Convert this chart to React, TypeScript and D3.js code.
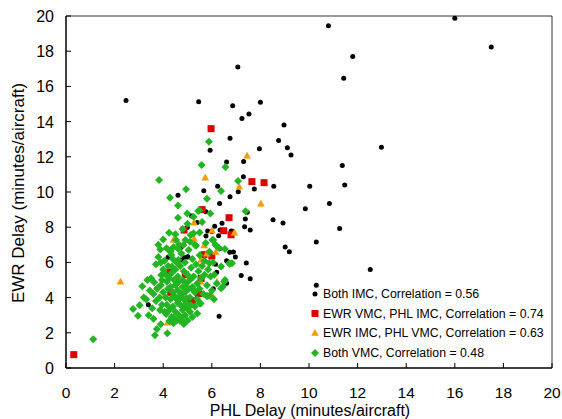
import React from "react";
import * as d3 from "d3";

// ---- Data (PHL delay, EWR delay) ----
const bothIMC: [number, number][] = [
  [10.8,19.45],[16.0,19.87],[17.5,18.24],[11.8,17.7],[7.07,17.1],[11.43,16.46],[5.46,15.13],[2.47,15.2],
  [6.86,14.9],[8.0,15.1],[7.24,14.18],[7.53,14.43],[8.97,13.8],[6.75,13.05],[5.93,12.37],[8.75,12.92],
  [9.11,12.52],[9.26,12.1],[12.98,12.54],[7.96,12.46],[6.61,11.7],[7.31,11.74],[7.3,10.87],[11.37,11.5],
  [11.47,10.4],[10.03,10.32],[8.55,10.32],[7.75,10.17],[7.09,10.02],[6.24,10.32],[5.67,10.07],[4.61,9.81],
  [6.75,9.73],[6.32,9.34],[10.84,9.34],[9.85,9.05],[5.76,8.88],[7.46,8.85],[5.17,8.64],[7.38,8.47],
  [8.52,8.43],[8.93,8.24],[5.4,8.27],[6.42,8.22],[11.26,7.92],[7.35,8.03],[6.12,8.05],[4.99,7.99],
  [7.58,7.84],[6.84,7.77],[5.83,7.78],[6.0,7.75],[6.34,7.84],[6.8,7.78],[6.28,7.52],[5.76,7.5],
  [10.3,7.16],[9.02,6.88],[9.19,6.61],[6.74,6.57],[6.89,6.59],[6.32,6.78],[4.72,6.84],[6.97,6.31],
  [4.87,6.27],[4.99,6.31],[5.02,6.32],[4.2,6.29],[4.73,6.14],[6.61,6.1],[7.42,5.97],[6.15,5.89],
  [6.39,5.76],[12.52,5.59],[6.2,5.44],[7.21,5.26],[7.58,5.07],[6.61,4.81],[10.3,4.7],[6.06,4.5],
  [3.39,3.6],[6.3,2.94]
];

const ewrVmcPhlImc: [number, number][] = [
  [0.32,0.76],[5.97,13.6],[7.65,10.59],[8.15,10.53],[5.6,9.0],[6.71,8.54],[4.86,7.84],[6.49,7.8],
  [6.79,7.57],[5.68,6.44],[6.0,6.36],[4.27,5.44],[4.91,5.3],[5.56,5.09],[4.31,4.3],[5.45,4.22],
  [4.97,3.86],[5.2,3.82]
];

const ewrImcPhlVmc: [number, number][] = [
  [2.24,4.9],[7.45,12.06],[5.73,10.81],[7.13,10.3],[8.02,9.34],[5.27,8.26],[6.0,7.8],[6.93,7.69],
  [5.27,7.35],[4.42,7.27],[5.69,6.97],[6.16,6.59],[5.56,6.14],[6.21,4.9],[5.53,4.9],[5.98,4.2],
  [4.18,2.57],[5.8,6.5]
];

const bothVMC: [number, number][] = [
  [3.83,10.68],[4.94,10.15],[4.28,9.68],[4.61,9.24],[5.44,8.92],[4.99,8.78],[4.61,8.54],[5.8,9.62],
  [6.38,10.06],[5.94,8.78],[7.08,10.63],[7.39,8.9],[4.24,7.69],[5.25,7.65],[5.13,7.56],[4.91,7.27],
  [5.1,7.18],[4.53,7.27],[4.83,6.99],[3.88,6.74],[4.14,6.8],[4.42,6.86],[4.62,6.78],[4.33,6.42],
  [4.62,6.14],[4.35,5.76],[3.92,5.28],[6.3,6.82],[6.54,6.76],[6.73,5.92],[6.54,5.0],[6.45,4.62],
  [5.9,4.11],[5.83,4.09],[5.51,3.67],[3.14,4.64],[3.03,3.56],[2.76,3.35],[2.96,2.97],[1.12,1.63],
  [3.63,4.87],[3.77,4.55],[3.87,3.3],[4.12,3.07],[3.9,2.48],[3.74,2.22],[3.66,1.86],[4.17,1.97],
  [4.42,2.86],[4.25,2.67],[4.69,2.69],[4.42,2.54],[4.83,3.48],[5.14,3.58],[4.69,3.96],
  [5.88,12.86],[5.58,11.53],[6.56,11.42],[5.49,8.96],[5.25,8.6],[6.83,5.95],[6.38,5.76],[6.02,7.27],
  [5.35,6.95],[6.06,7.27],[6.2,6.93],[5.9,5.95],[6.72,5.95],[6.51,4.9],[6.38,4.53],[6.09,3.9],
  [5.54,3.67],[5.79,4.09],[4.72,2.76],[4.97,3.96],[5.24,4.43],
  [3.7,5.9],[3.8,6.3],[3.9,6.0],[4.0,5.6],[4.05,6.1],[4.1,5.3],[4.15,4.9],[4.2,5.8],[4.25,5.1],
  [4.3,4.6],[4.3,6.6],[4.35,5.4],[4.4,4.3],[4.4,6.2],[4.45,5.0],[4.5,4.7],[4.5,5.6],[4.55,3.9],
  [4.55,6.0],[4.6,4.4],[4.6,5.2],[4.65,4.9],[4.7,5.8],[4.7,3.6],[4.75,4.2],[4.75,6.5],[4.8,5.0],
  [4.8,4.6],[4.85,5.5],[4.85,3.9],[4.9,4.3],[4.9,6.0],[4.95,4.8],[5.0,5.3],[5.0,3.4],[5.05,4.5],
  [5.05,6.7],[5.1,5.0],[5.1,4.0],[5.15,5.7],[5.2,4.6],[5.2,6.2],[5.25,5.2],[5.3,4.3],[5.3,7.0],
  [5.35,5.9],[5.4,4.8],[5.4,3.9],[5.45,5.5],[5.5,6.4],[5.5,4.5],[5.55,5.1],[5.6,5.8],[5.65,4.2],
  [5.7,6.1],[5.7,5.3],[5.75,7.1],[5.8,4.7],[5.85,5.6],[5.9,6.6],[5.95,5.2],[6.0,4.4],[6.05,6.0],
  [6.1,5.3],[6.15,7.0],[6.2,4.8],[3.6,4.2],[3.7,3.8],[3.75,4.5],[3.85,4.0],[3.9,4.7],[3.95,3.6],
  [4.0,4.3],[4.05,3.2],[4.1,4.0],[4.15,3.6],[4.2,4.5],[4.25,3.3],[4.3,3.9],[4.35,2.9],[4.4,3.5],
  [4.45,4.1],[4.5,3.2],[4.55,2.7],[4.6,3.7],[4.65,3.0],[4.7,4.1],[4.75,2.8],[4.8,3.3],[4.85,2.5],
  [4.9,3.0],[4.95,3.7],[5.0,2.7],[5.1,3.2],[5.2,2.9],[5.3,3.5],[5.4,3.1],[3.5,5.1],[3.45,4.4],
  [3.55,3.4],[3.3,3.9],[3.4,3.0],[3.2,4.0],[3.6,2.8],[3.35,5.0],[3.8,7.0],[4.0,7.3],[4.5,7.6],
  [4.8,7.9],[5.0,8.2],[5.5,7.7],[5.6,8.3],[4.65,7.0],[3.95,5.0]
];

const legendLabels = [
  "Both IMC, Correlation = 0.56",
  "EWR VMC, PHL IMC, Correlation = 0.74",
  "EWR IMC, PHL VMC, Correlation = 0.63",
  "Both VMC, Correlation = 0.48",
];
const xTicks = [0, 2, 4, 6, 8, 10, 12, 14, 16, 18, 20];
const yTicks = [0, 2, 4, 6, 8, 10, 12, 14, 16, 18, 20];
const xTitle = "PHL Delay (minutes/aircraft)";
const yTitle = "EWR Delay (minutes/aircraft)";

const W = 562, H = 419;
const FONT = "'Liberation Sans', Arial, sans-serif";
const COLORS = ["#000000", "#dd0000", "#ff9900", "#22b522"];

const x = d3.scaleLinear().domain([0, 20]).range([66, 552]);
const y = d3.scaleLinear().domain([0, 20]).range([368, 16]);

function Marker({ kind, cx, cy }: { kind: number; cx: number; cy: number }) {
  const c = COLORS[kind];
  if (kind === 0) return <circle cx={cx} cy={cy} r={2.5} fill={c} />;
  if (kind === 1) return <rect x={cx - 3.5} y={cy - 3.5} width={7} height={7} fill={c} />;
  if (kind === 2)
    return <path d={`M${cx},${cy - 4}L${cx + 3.8},${cy + 2.8}L${cx - 3.8},${cy + 2.8}Z`} fill={c} />;
  return <path d={`M${cx},${cy - 4}L${cx + 4},${cy}L${cx},${cy + 4}L${cx - 4},${cy}Z`} fill={c} />;
}

export default function App() {
  const series = [bothIMC, ewrVmcPhlImc, ewrImcPhlVmc, bothVMC];
  const legendY = [294, 313.5, 333, 353];
  return (
    <svg width={W} height={H} style={{ position: "absolute", left: 0, top: 0, background: "#fff" }}
      fontFamily={FONT}>
      <rect x={0} y={0} width={W} height={H} fill="#fff" />
      {/* frame */}
      <line x1={x(0)} x2={x(20)} y1={y(20)} y2={y(20)} stroke="#333" strokeWidth={1} />
      <line x1={x(20)} x2={x(20)} y1={y(20)} y2={y(0)} stroke="#333" strokeWidth={1} />
      {/* ticks */}
      {xTicks.map((t) => (
        <g key={"xt" + t}>
          <line x1={x(t)} x2={x(t)} y1={y(0)} y2={y(0) - 5} stroke="#000" strokeWidth={1} />
          <text x={x(t)} y={397.5} textAnchor="middle" fontSize={15.5} fill="#000">{t}</text>
        </g>
      ))}
      {yTicks.map((t) => (
        <g key={"yt" + t}>
          <line x1={x(0)} x2={x(0) + 5} y1={y(t)} y2={y(t)} stroke="#000" strokeWidth={1} />
          <text x={54} y={y(t) + 6} textAnchor="end" fontSize={16} fill="#000">{t}</text>
        </g>
      ))}
      {/* data */}
      {series.map((s, k) => (
        <g key={"s" + k}>
          {s.map((d, i) => (
            <Marker key={i} kind={k} cx={x(d[0])} cy={y(d[1])} />
          ))}
        </g>
      ))}
      {/* axes */}
      <line x1={x(0)} x2={x(0)} y1={y(20)} y2={y(0)} stroke="#000" strokeWidth={1.5} />
      <line x1={x(0)} x2={x(20)} y1={y(0)} y2={y(0)} stroke="#000" strokeWidth={1.5} />
      {/* titles */}
      <text x={310} y={415.5} textAnchor="middle" fontSize={16} fill="#000">{xTitle}</text>
      <text transform={`translate(24,193) rotate(-90)`} textAnchor="middle" fontSize={17} fill="#000">{yTitle}</text>
      {/* legend */}
      {legendLabels.map((l, i) => (
        <g key={"lg" + i}>
          <Marker kind={i} cx={315} cy={legendY[i]} />
          <text x={323} y={legendY[i] + 4.3} fontSize={12.3} fill="#000">{l}</text>
        </g>
      ))}
    </svg>
  );
}
